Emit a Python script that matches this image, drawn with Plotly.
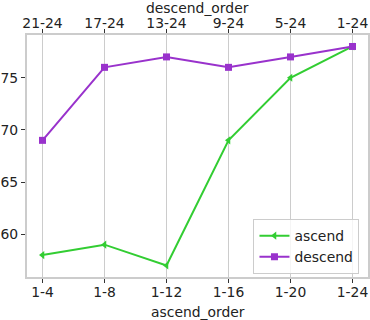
import plotly.graph_objects as go

ascend_order = ["1-4", "1-8", "1-12", "1-16", "1-20", "1-24"]
descend_order = ["21-24", "17-24", "13-24", "9-24", "5-24", "1-24"]
ascend = [58, 59, 57, 69, 75, 78]
descend = [69, 76, 77, 76, 77, 78]

fig = go.Figure()
fig.add_trace(go.Scatter(
    x=ascend_order, y=ascend, name="ascend", mode="lines+markers",
    line=dict(color="#32CD32", width=2),
    marker=dict(symbol="triangle-left", size=7, color="#32CD32"),
    xaxis="x", yaxis="y",
))
fig.add_trace(go.Scatter(
    x=descend_order, y=descend, name="descend", mode="lines+markers",
    line=dict(color="#9932CC", width=2),
    marker=dict(symbol="square", size=7, color="#9932CC"),
    xaxis="x2", yaxis="y",
))

axis_common = dict(
    type="category", range=[-0.25, 5.25], automargin=False,
    showgrid=True, gridcolor="#cccccc", gridwidth=1,
    showline=True, linecolor="#cccccc", linewidth=2, mirror=True,
    ticks="outside", ticklen=4, tickcolor="#333333",
    tickfont=dict(size=13.9, color="#222222"), zeroline=False,
)

fig.update_layout(
    width=370, height=320,
    margin=dict(l=27, r=2, t=35, b=43),
    paper_bgcolor="white", plot_bgcolor="white",
    font=dict(family="DejaVu Sans", size=13.9, color="#222222"),
    xaxis=dict(**axis_common, ticklabelstandoff=-3),
    xaxis2=dict(**axis_common, overlaying="x", side="top", ticklabelstandoff=-5),
    yaxis=dict(
        range=[55.9, 79.1], tickvals=[60, 65, 70, 75], automargin=False,
        showgrid=False, showline=True, linecolor="#cccccc", linewidth=2,
        mirror=True, ticks="outside", ticklen=4, tickcolor="#333333",
        tickfont=dict(size=13.9, color="#222222"), zeroline=False,
    ),
    showlegend=True,
    legend=dict(
        x=0.975, y=0.012, xanchor="right", yanchor="bottom",
        bgcolor="rgba(255,255,255,0.8)", bordercolor="#cccccc", borderwidth=1,
        font=dict(size=13.9), tracegroupgap=0, itemwidth=30,
    ),
    annotations=[
        dict(text="descend_order", xref="paper", yref="paper", x=0.5, y=1,
             xanchor="center", yanchor="bottom", yshift=17, showarrow=False),
        dict(text="ascend_order", xref="paper", yref="paper", x=0.5, y=0,
             xanchor="center", yanchor="top", yshift=-25, showarrow=False),
    ],
)

fig.write_html("out.html", config={"displayModeBar": False},
               post_script="document.body.style.margin = '0';")
